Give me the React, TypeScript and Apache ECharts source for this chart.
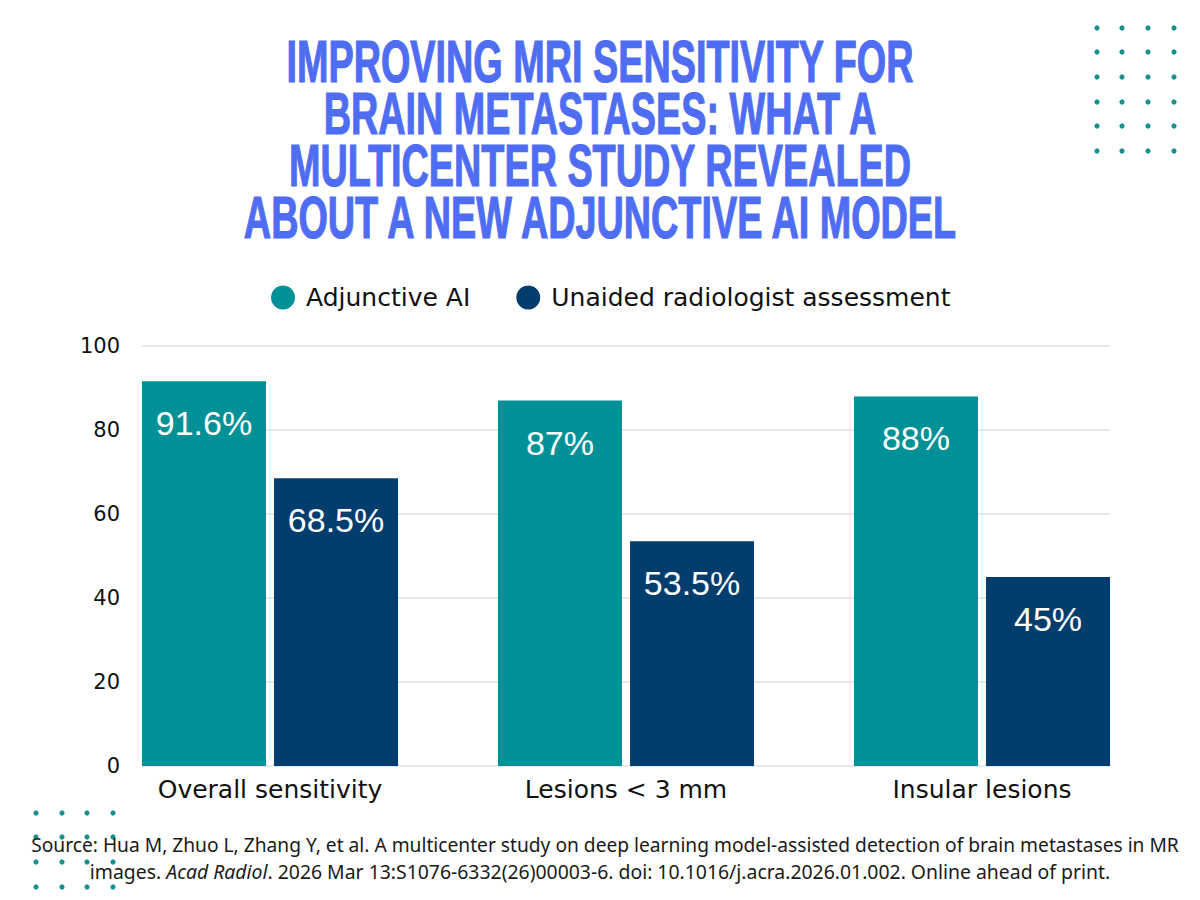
import React, { useEffect, useRef } from "react";
import * as echarts from "echarts";

const categories = ["Overall sensitivity", "Lesions < 3 mm", "Insular lesions"];
const seriesNames = ["Adjunctive AI", "Unaided radiologist assessment"];
const adjunctiveAI = [91.6, 87, 88];
const unaided = [68.5, 53.5, 45];
const yTicks = { min: 0, max: 100, interval: 20 };

const titleLines = [
  "IMPROVING MRI SENSITIVITY FOR",
  "BRAIN METASTASES: WHAT A",
  "MULTICENTER STUDY REVEALED",
  "ABOUT A NEW ADJUNCTIVE AI MODEL",
];
const sourceLine1 =
  "Source: Hua M, Zhuo L, Zhang Y, et al. A multicenter study on deep learning model-assisted detection of brain metastases in MR";
const sourceLine2a = "images. ";
const sourceLine2b = "Acad Radiol";
const sourceLine2c = ". 2026 Mar 13:S1076-6332(26)00003-6. doi: 10.1016/j.acra.2026.01.002. Online ahead of print.";

const TEAL = "#009196";
const NAVY = "#023d6e";
const DOT = "#1a8f90";
const TITLE = "#4f6df3";
const UI_FONT = "'DejaVu Sans', 'Noto Sans', sans-serif";

export default function App() {
  const ref = useRef<HTMLDivElement>(null);
  useEffect(() => {
    if (!ref.current) return;
    const chart = echarts.init(ref.current, undefined, { renderer: "svg" });

    const dots: any[] = [];
    const trX = [1097, 1122, 1148, 1174];
    const trY = [28, 52, 77, 102, 126, 151];
    trX.forEach((x) => trY.forEach((y) => dots.push({ type: "circle", shape: { cx: x, cy: y, r: 2.6 }, style: { fill: DOT }, z: 1 })));
    const blX = [36, 62, 87, 113];
    const blY = [813, 837, 862, 887];
    blX.forEach((x) => blY.forEach((y) => dots.push({ type: "circle", shape: { cx: x, cy: y, r: 2.6 }, style: { fill: DOT }, z: 1 })));

    const titleY = [62, 114, 166, 218];
    const titles = titleLines.map((t, i) => ({
      type: "text",
      x: 600,
      y: titleY[i],
      scaleX: 0.63,
      style: {
        text: t,
        fill: TITLE,
        stroke: TITLE,
        lineWidth: 1.2,
        font: "bold 60px 'Liberation Sans', Arial, sans-serif",
        textAlign: "center",
        textVerticalAlign: "middle",
      },
      z: 5,
    }));

    const srcFont = "'Noto Sans', 'Open Sans', sans-serif";
    const sources = [
      {
        type: "text",
        x: 605,
        y: 844,
        style: { text: sourceLine1, fill: "#1a1a1a", font: `19.2px ${srcFont}`, textAlign: "center", textVerticalAlign: "middle" },
        z: 5,
      },
      {
        type: "text",
        x: 600,
        y: 871,
        style: {
          text: `{n|${sourceLine2a}}{i|${sourceLine2b}}{n|${sourceLine2c}}`,
          textAlign: "center",
          textVerticalAlign: "middle",
          rich: {
            n: { fontSize: 19.4, fontFamily: srcFont, fill: "#1a1a1a" },
            i: { fontSize: 19.4, fontFamily: srcFont, fontStyle: "italic", fill: "#1a1a1a" },
          },
        },
        z: 5,
      },
    ];

    const labelCfg = {
      show: true,
      position: "insideTop",
      distance: 25,
      color: "#ffffff",
      fontSize: 34,
      fontFamily: "'Liberation Sans', Arial, sans-serif",
      formatter: (p: any) => `${p.value}%`,
    };

    chart.setOption({
      animation: false,
      backgroundColor: "#ffffff",
      legend: {
        data: seriesNames,
        left: 266,
        top: 280,
        icon: "circle",
        itemWidth: 24,
        itemHeight: 24,
        itemGap: 46,
        textStyle: { fontSize: 25, color: "#111", fontFamily: UI_FONT, padding: [0, 0, 0, 6] },
      },
      grid: [
        { left: 142, right: 90, top: 346, height: 420 },
        { left: 92, right: 40, top: 346, height: 420 },
      ],
      xAxis: [
        { type: "category", gridIndex: 0, data: categories, show: false },
        {
          type: "category",
          gridIndex: 1,
          data: categories,
          axisLine: { show: false },
          axisTick: { show: false },
          axisLabel: { fontSize: 25, color: "#111", margin: 11, fontFamily: UI_FONT },
        },
      ],
      yAxis: [
        {
          type: "value",
          gridIndex: 0,
          min: yTicks.min,
          max: yTicks.max,
          interval: yTicks.interval,
          axisLine: { show: false },
          axisTick: { show: false },
          axisLabel: { fontSize: 21, color: "#111", margin: 22, fontFamily: UI_FONT },
          splitLine: { lineStyle: { color: "#dde1e4", width: 1.5 } },
        },
        {
          type: "value",
          gridIndex: 1,
          min: yTicks.min,
          max: yTicks.max,
          interval: yTicks.interval,
          show: false,
          splitLine: { show: false },
        },
      ],
      series: [
        {
          name: seriesNames[0],
          type: "bar",
          xAxisIndex: 1,
          yAxisIndex: 1,
          data: adjunctiveAI,
          barWidth: 124,
          barGap: "6.5%",
          itemStyle: { color: TEAL },
          label: labelCfg,
          z: 3,
        },
        {
          name: seriesNames[1],
          type: "bar",
          xAxisIndex: 1,
          yAxisIndex: 1,
          data: unaided,
          barWidth: 124,
          barGap: "6.5%",
          itemStyle: { color: NAVY },
          label: labelCfg,
          z: 3,
        },
      ],
      graphic: [...dots, ...titles, ...sources],
    });

    return () => chart.dispose();
  }, []);

  return <div ref={ref} style={{ position: "fixed", left: 0, top: 0, width: 1200, height: 900 }} />;
}
